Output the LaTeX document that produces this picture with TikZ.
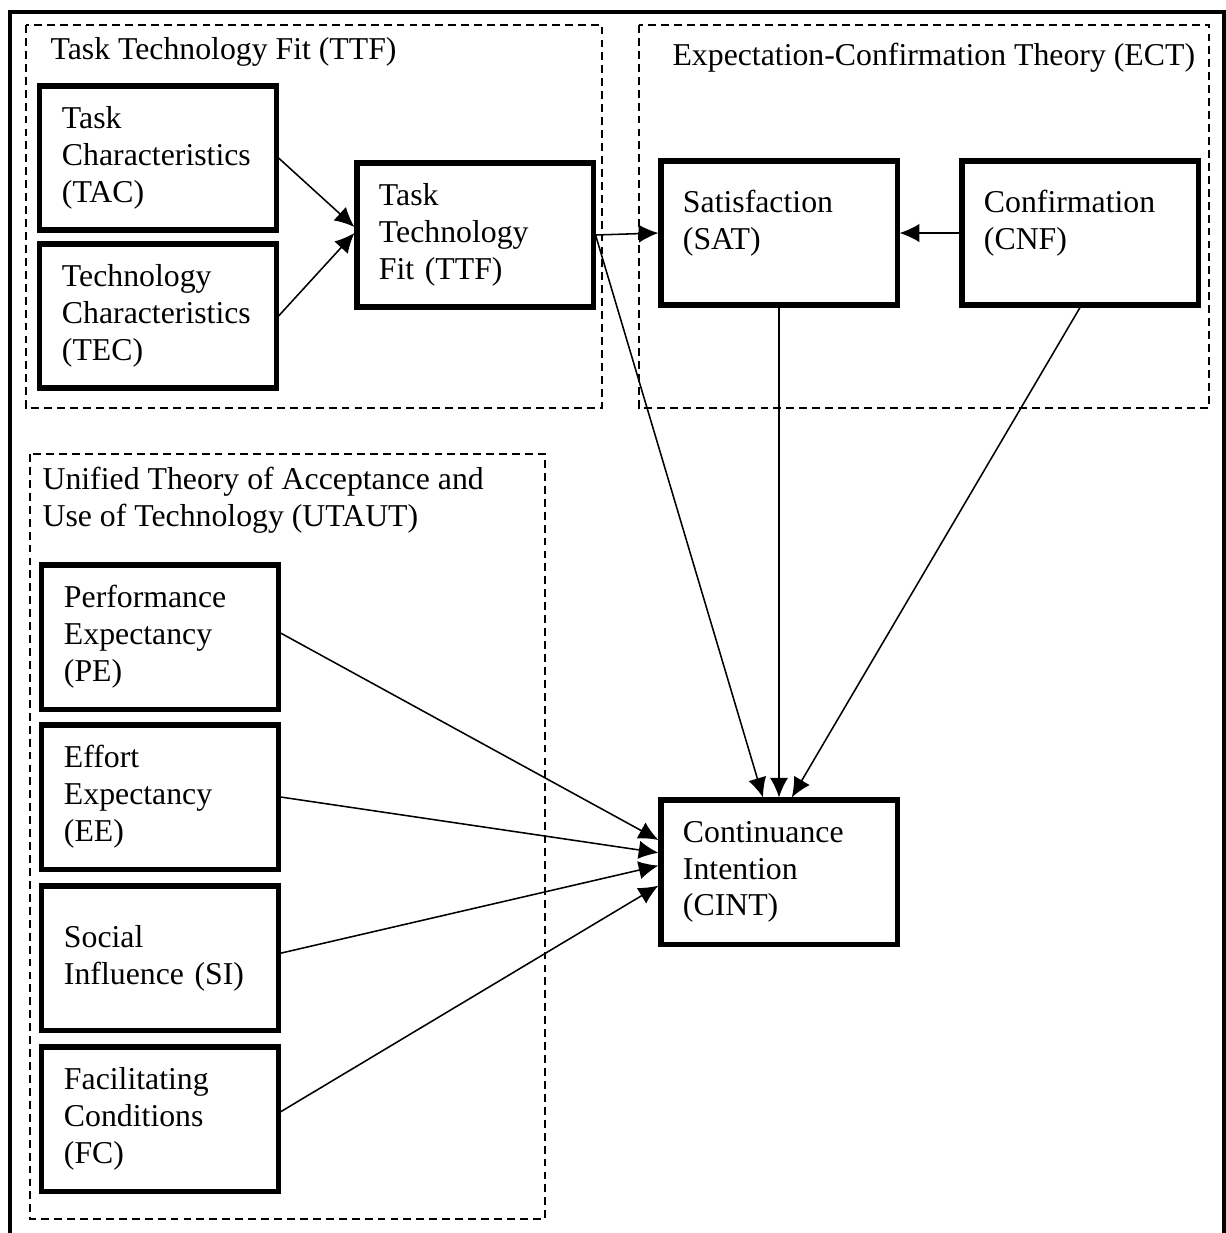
\documentclass[tikz,border=0pt]{standalone}
\usepackage{fontspec}
\setmainfont{Liberation Serif}
\usetikzlibrary{arrows.meta}
\newcommand{\txtsize}{\fontsize{11.3}{13.1}\selectfont}

\tikzset{
  cbox/.style={draw, line width=1.8pt, minimum width=2.95cm, minimum height=1.8cm,
    text width=2.4cm, align=left, inner sep=0pt, font=\txtsize},
  grp/.style={draw, line width=0.5pt, dash pattern=on 2.8pt off 1.8pt},
  grptitle/.style={inner sep=0pt, font=\txtsize},
  link/.style={-{Latex[length=7pt,width=6.5pt]}, line width=0.55pt}
}

\begin{document}
\begin{tikzpicture}[x=0.0125cm, y=-0.0125cm]
  \useasboundingbox (0,0) rectangle (1226,1233);
  \draw[line width=1.6pt] (10,1233) -- (10,12) -- (1224,12) -- (1224,1233);

  % theory frames
  \draw[grp] (26,25) rectangle (602,408);
  \draw[grp] (639,25) rectangle (1209,408);
  \draw[grp] (30,454) rectangle (545,1219);
  \node[grptitle, anchor=base west] (ttfttl) at (50,59) {Task Technology Fit (TTF)};
  \node[grptitle, anchor=base west] (ectttl) at (672,65) {Expectation-Confirmation Theory (ECT)};
  \node[grptitle, anchor=north west, align=left] (utttl) at (42,467)
    {Unified Theory of Acceptance and\\Use of Technology (UTAUT)};

  % constructs
  \node[cbox] (tac) at (158,158) {Task\\Characteristics\\(TAC)};
  \node[cbox] (tec) at (158,316) {Technology\\Characteristics\\(TEC)};
  \node[cbox] (ttf) at (475,235) {Task\\Technology\\Fit (TTF)};
  \node[cbox] (sat) at (779,233) {Satisfaction\\(SAT)\vspace{0.24cm}};
  \node[cbox] (cnf) at (1080,233) {Confirmation\\(CNF)\vspace{0.24cm}};
  \node[cbox] (pe) at (160,637) {Performance\\Expectancy\\(PE)};
  \node[cbox] (ee) at (160,797) {Effort\\Expectancy\\(EE)};
  \node[cbox] (si) at (160,958) {Social\\Influence (SI)};
  \node[cbox] (fc) at (160,1119) {Facilitating\\Conditions\\(FC)};
  \node[cbox] (cint) at (779,872) {Continuance\\Intention\\(CINT)};

  % paths
  \draw[link] (tac.east) -- ([yshift=0.1cm]ttf.west);
  \draw[link] (tec.east) -- ([yshift=0.025cm]ttf.west);
  \draw[link] (ttf.east) -- (sat.west);
  \draw[link] (cnf.west) -- (sat.east);
  \draw[link] (ttf.east) -- ([xshift=-0.2cm]cint.north);
  \draw[link] (sat.south) -- (cint.north);
  \draw[link] (cnf.south) -- ([xshift=0.16cm]cint.north);
  \draw[link] ([yshift=0.05cm]pe.east) -- ([yshift=0.4cm]cint.west);
  \draw[link] (ee.east) -- ([yshift=0.24cm]cint.west);
  \draw[link] ([yshift=0.06cm]si.east) -- ([yshift=0.08cm]cint.west);
  \draw[link] ([yshift=0.09cm]fc.east) -- ([yshift=-0.17cm]cint.west);
\end{tikzpicture}
\end{document}
